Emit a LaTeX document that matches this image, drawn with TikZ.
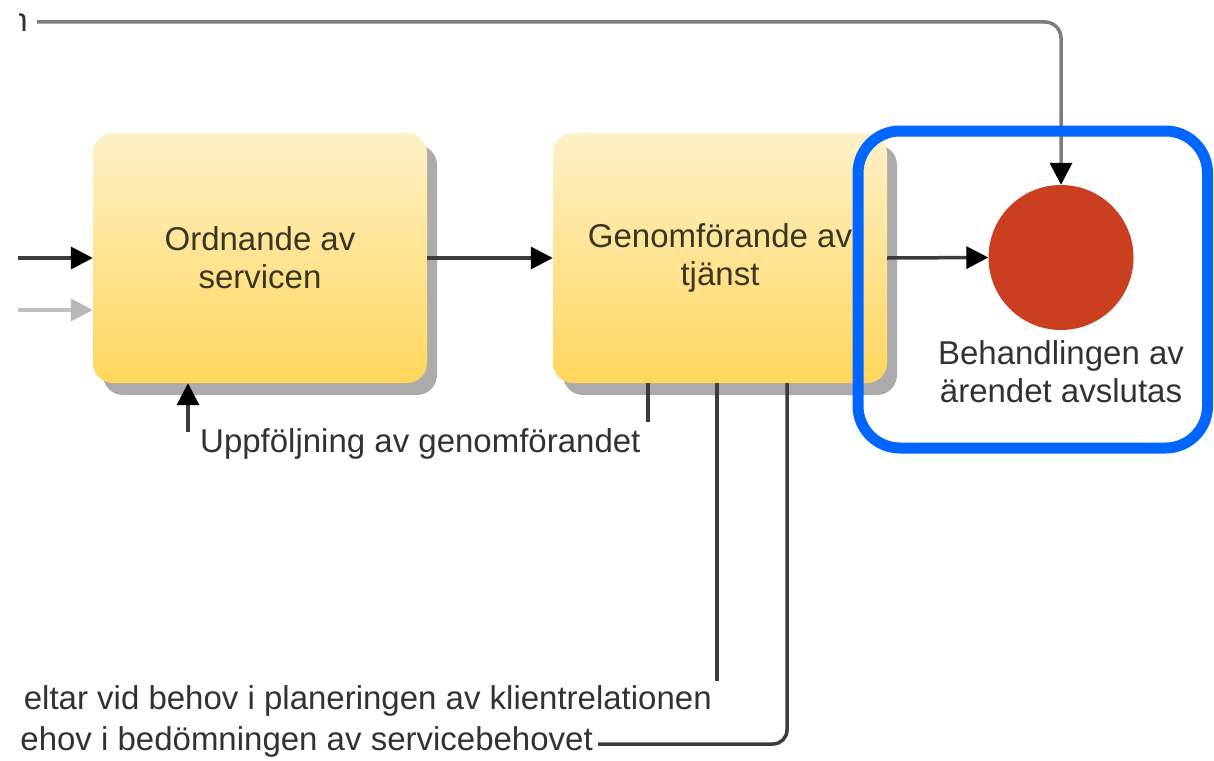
\documentclass[tikz,border=0pt]{standalone}
\usepackage{fontspec}
\setmainfont{Liberation Sans}
\usetikzlibrary{arrows.meta,shadows}

\definecolor{boxtop}{RGB}{254,241,200}
\definecolor{boxbot}{RGB}{255,214,92}
\definecolor{endred}{RGB}{202,63,32}
\definecolor{hilite}{RGB}{0,102,255}
\definecolor{txt}{RGB}{50,50,50}
\definecolor{boxtxt}{RGB}{58,54,36}
\definecolor{wire}{RGB}{60,60,60}
\definecolor{toplinecol}{RGB}{125,125,125}

\tikzset{
  lbl/.style={font=\fontsize{33}{38}\selectfont, text=txt, inner sep=0pt, align=center},
  task/.style={rectangle, rounded corners=20pt, minimum width=334pt, minimum height=250pt,
    inner sep=0pt, draw=none, top color=boxtop, bottom color=boxbot,
    general shadow={fill=black!33, shadow xshift=10pt, shadow yshift=-12pt},
    font=\fontsize{33}{38}\selectfont, text=boxtxt, align=center},
  endevent/.style={circle, fill=endred, draw=none, minimum size=145pt, inner sep=0pt},
  tip/.style={-{Triangle[length=22pt,width=22pt,color=black]}},
  conn/.style={draw=wire, line width=3.5pt, tip},
  lead/.style={draw=wire, line width=3.5pt},
  ghost/.style={draw=black!25, line width=3.5pt, -{Triangle[length=22pt,width=22pt,color=black!28]}},
  highlight/.style={draw=hilite, line width=11pt, rounded corners=42pt}
}

\begin{document}
\begin{tikzpicture}[x=1pt,y=1pt]
  \useasboundingbox (0,0) rectangle (1214,-760);

  % process boxes and end event
  \node[task] (ordna) at (260,-258) {Ordnande av\\servicen};
  \node[task] (genom) at (720,-258) {Genomförande av\\tjänst};
  \node[endevent] (slut) at (1061,-257.5) {};
  \node[lbl] (slutlbl) at (1061,-372) {Behandlingen av\\ärendet avslutas};

  % free ends of the connectors
  \coordinate (in1) at (18,-258);
  \coordinate (in2) at (18,-310);
  \coordinate (topstart) at (37,-22);
  \coordinate (fbstart) at (188,-432);
  \coordinate (down1) at (648,-422);
  \coordinate (down2) at (717,-681);
  \coordinate (down3) at (787,-383);

  % texts
  \begin{scope}
    \clip (19,0) rectangle (60,-60);
    \node[lbl, anchor=base east] (toptxt) at (28,-32) {n};
  \end{scope}
  \node[lbl, anchor=base west] (uppf) at (200,-452) {Uppföljning av genomförandet};
  \node[lbl, anchor=base east] (delt) at (712,-709) {eltar vid behov i planeringen av klientrelationen};
  \node[lbl, anchor=base east] (bed) at (593,-750) {ehov i bedömningen av servicebehovet};

  % connectors
  \draw[conn] (in1) -- (ordna.west |- in1);
  \draw[ghost] (in2) -- (ordna.west |- in2);
  \draw[conn] (ordna.east) -- (genom.west);
  \draw[conn] (genom.east) -- (slut.west);
  \draw[draw=toplinecol, line width=3.5pt, rounded corners=16pt, tip] (topstart) -| (slut.north);
  \draw[conn] (fbstart) -- (ordna.south -| fbstart);
  \draw[lead] (genom.south -| down1) -- (down1);
  \draw[lead] (genom.south -| down2) -- (down2);
  \draw[lead, rounded corners=14pt] (down3) |- ([xshift=5pt]bed.east |- 0,-744);

  % highlight frame around the end event
  \draw[highlight] (858,-131) rectangle (1207.5,-448);
\end{tikzpicture}
\end{document}
